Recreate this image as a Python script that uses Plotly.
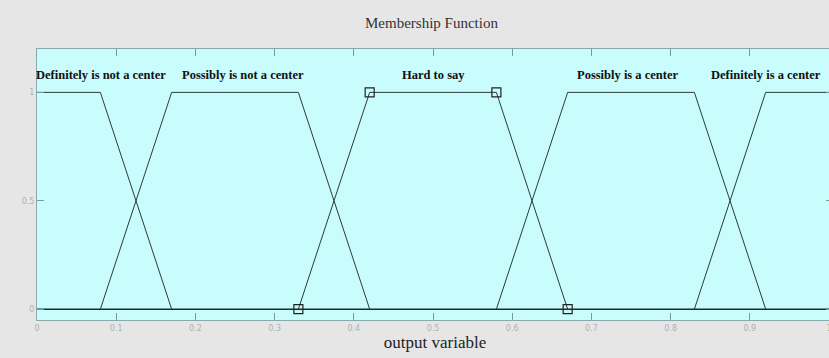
import plotly.graph_objects as go

# ── membership functions (trapezoids: a, b, c, d) ───────────
mf_names = ["Definitely is not a center", "Possibly is not a center", "Hard to say",
            "Possibly is a center", "Definitely is a center"]
mf_a = [-0.17, 0.08, 0.33, 0.58, 0.83]
mf_b = [-0.08, 0.17, 0.42, 0.67, 0.92]
mf_c = [0.08, 0.33, 0.58, 0.83, 1.08]
mf_d = [0.17, 0.42, 0.67, 0.92, 1.17]
label_x = [0.081, 0.26, 0.50, 0.745, 0.92]
label_y = 1.078
selected = 2  # "Hard to say" is highlighted with vertex squares

x_ticks = [0, 0.1, 0.2, 0.3, 0.4, 0.5, 0.6, 0.7, 0.8, 0.9, 1]
y_ticks = [0, 0.5, 1]

line_col = "#2b3b3b"
serif = "Liberation Serif, Times New Roman, serif"
X_MAX = 1.005  # axis runs a touch past 1 so the right border falls off-screen

fig = go.Figure()

# zero baseline across the universe of discourse
fig.add_trace(go.Scatter(x=[0, X_MAX], y=[0, 0], mode="lines",
                         line=dict(color="#1f2a2a", width=1.5),
                         showlegend=False, hoverinfo="skip"))

for i, name in enumerate(mf_names):
    xs = [mf_a[i], mf_b[i], mf_c[i], mf_d[i]]
    ys = [0, 1, 1, 0]
    fig.add_trace(go.Scatter(x=xs, y=ys, mode="lines",
                             line=dict(color=line_col, width=1),
                             name=name, showlegend=False))
    if i == selected:
        fig.add_trace(go.Scatter(x=xs, y=ys, mode="markers",
                                 marker=dict(symbol="square-open", size=9,
                                             color="#222", line=dict(width=1.2)),
                                 showlegend=False, hoverinfo="skip"))
    fig.add_annotation(x=label_x[i], y=label_y, text="<b>" + name + "</b>",
                       showarrow=False, xanchor="center", yanchor="middle",
                       font=dict(family=serif, size=12.5, color="#111"))

fig.update_layout(
    width=833, height=358,
    margin=dict(l=37, r=0, t=49, b=38),
    paper_bgcolor="#e6e6e6", plot_bgcolor="#c9fcfc",
    title=dict(text="Membership Function", x=0.518, xanchor="center",
               y=1 - 23 / 358, yanchor="middle",
               font=dict(family=serif, size=15, color="#333")),
    font=dict(family=serif),
)
fig.update_xaxes(range=[0, X_MAX], tickvals=x_ticks,
                 ticktext=[f"{v:g}" for v in x_ticks],
                 ticks="inside", ticklen=7, tickcolor="#7a9a9a",
                 showline=True, linecolor="#88aaaa", linewidth=1, mirror="ticks",
                 showgrid=False, zeroline=False,
                 tickfont=dict(family="DejaVu Sans", size=8, color="#b0b0b0"),
                 title=dict(text="output variable", standoff=2,
                            font=dict(family=serif, size=17, color="#222")))
fig.update_yaxes(range=[-0.05, 1.2], tickvals=y_ticks,
                 ticktext=[f"{v:g}" for v in y_ticks],
                 ticks="inside", ticklen=7, tickcolor="#7a9a9a",
                 showline=True, linecolor="#88aaaa", linewidth=1, mirror="ticks",
                 showgrid=False, zeroline=False,
                 tickfont=dict(family="DejaVu Sans", size=8, color="#b0b0b0"))

# drop the browser's default body margin so the figure fills the window
fig.write_html("out.html", config={"displayModeBar": False},
               post_script="document.body.style.margin='0';"
                           "document.body.style.overflow='hidden';")
